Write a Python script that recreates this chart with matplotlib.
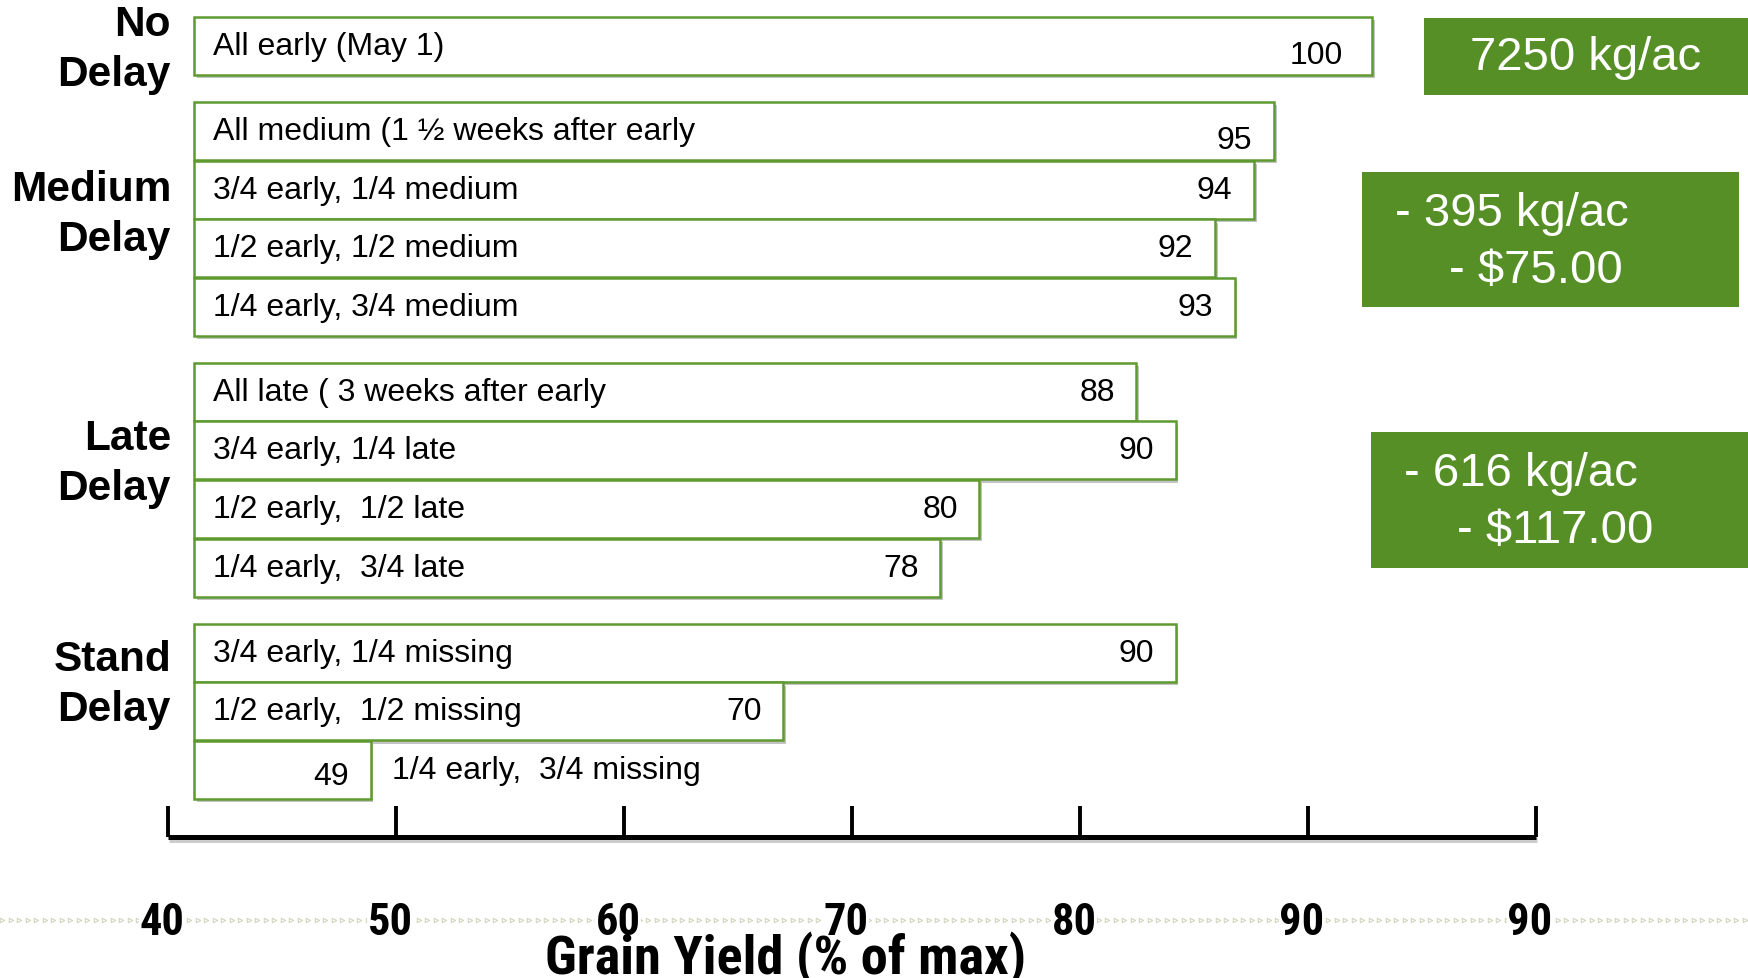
import numpy as np
import matplotlib
matplotlib.use("Agg")
import matplotlib.pyplot as plt
from matplotlib import patheffects as pe
from matplotlib import font_manager as fm
from matplotlib import transforms as mtrans
from matplotlib.patches import Rectangle

# ---------------- data ----------------
labels = [
    "All early (May 1)",
    "All medium (1 \u00bd weeks after early",
    "3/4 early, 1/4 medium",
    "1/2 early, 1/2 medium",
    "1/4 early, 3/4 medium",
    "All late ( 3 weeks after early",
    "3/4 early, 1/4 late",
    "1/2 early,  1/2 late",
    "1/4 early,  3/4 late",
    "3/4 early, 1/4 missing",
    "1/2 early,  1/2 missing",
    "1/4 early,  3/4 missing",
]
values = [100, 95, 94, 92, 93, 88, 90, 80, 78, 90, 70, 49]
groups = [0, 1, 1, 1, 1, 2, 2, 2, 2, 3, 3, 3]
group_names = ["No\nDelay", "Medium\nDelay", "Late\nDelay", "Stand\nDelay"]
axis_ticks = [40, 50, 60, 70, 80, 90, 100]
axis_ticklabels = ["40", "50", "60", "70", "80", "90", "90"]
xlabel = "Grain Yield (% of max)"
box_texts = [["7250 kg/ac"], ["- 395 kg/ac", "- $75.00"], ["- 616 kg/ac", "- $117.00"]]

# ---------------- style ----------------
W, H = 1748, 979
GREEN = "#568F26"
EDGE = "#5E9A30"
FONT = ["Liberation Sans", "DejaVu Sans"]
plt.rcParams["font.family"] = FONT

# pick a condensed bold font if one is installed
names = {f.name for f in fm.fontManager.ttflist}
narrow_kw = dict(family=FONT, fontweight="bold")
for cand in ["Liberation Sans Narrow", "Roboto Condensed", "Open Sans Condensed",
             "DejaVu Sans Condensed", "Noto Sans Condensed"]:
    if cand in names:
        narrow_kw = dict(family=[cand] + FONT, fontweight="bold")
        break
else:
    if any(f.name == "DejaVu Sans" and f.stretch in ("condensed", 75, "semi-condensed")
           for f in fm.fontManager.ttflist):
        narrow_kw = dict(family=["DejaVu Sans"], fontweight="bold", fontstretch="condensed")

fig = plt.figure(figsize=(W / 100, H / 100), dpi=100)
fig.patch.set_facecolor("white")

# pixel-space decoration axes
deco = fig.add_axes([0, 0, 1, 1])
deco.set_xlim(0, W)
deco.set_ylim(H, 0)
deco.axis("off")

# bar axes (data coordinates: x = yield, y = row)
px_per_unit = (1372 - 194) / 60.0
pitch = 58.6
gap = 0.45
x0 = 40 - 194 / px_per_unit
y_top = -47 / pitch
ax = fig.add_axes([0, 0, 1, 1])
ax.set_xlim(x0, x0 + W / px_per_unit)
ax.set_ylim(y_top + H / pitch, y_top)
ax.axis("off")
ax.patch.set_alpha(0)

ypos = np.arange(len(values)) + gap * np.array(groups)
base = 40
bars = ax.barh(ypos, np.array(values) - base, left=base, height=0.99,
               color="white", edgecolor=EDGE, linewidth=1.8, zorder=3)
for b in bars:
    b.set_path_effects([pe.SimplePatchShadow(offset=(2, -2.5), shadow_rgbFace="#555555", alpha=0.35),
                        pe.Normal()])

FS = 23
pad_units = 1.1
for i, (lab, v, y) in enumerate(zip(labels, values, ypos)):
    short = (v - base) < 15
    if short:
        ax.text(v - pad_units, y + 0.1, str(v), ha="right", va="center", fontsize=FS, zorder=5)
        ax.text(v + pad_units, y, lab, ha="left", va="center", fontsize=FS, zorder=5)
    else:
        ax.text(base + 0.95, y, lab, ha="left", va="center", fontsize=FS, zorder=5)
        dy = 0.15 if i < 2 else 0.0
        ax.text(v - pad_units - (0.4 if v == 100 else 0), y + dy, str(v), ha="right", va="center",
                fontsize=FS, zorder=5)

# group labels
group_offsets = [0.05, -0.08, -0.29, -0.46]
for g, name in enumerate(group_names):
    idx = [i for i, gg in enumerate(groups) if gg == g]
    yc = (ypos[idx[0]] + ypos[idx[-1]]) / 2 + group_offsets[g]
    ax.text(x0 + 171 / px_per_unit, yc, name, ha="right", va="center", fontsize=30.5,
            fontweight="bold", linespacing=1.32, multialignment="right")

# green summary boxes (pixel coordinates)
boxes = [(1424, 19, W - 1424, 77), (1362, 173, 377, 135), (1371, 433, W - 1371, 136)]
for (bx, by, bw, bh) in boxes:
    deco.add_patch(Rectangle((bx, by), bw, bh, facecolor=GREEN, edgecolor="none", zorder=2))
deco.text(1586, 58, box_texts[0][0], ha="center", va="center", fontsize=34, color="white")
deco.text(1395, 214, box_texts[1][0], ha="left", va="center", fontsize=34, color="white")
deco.text(1449, 271, box_texts[1][1], ha="left", va="center", fontsize=34, color="white")
deco.text(1404, 474, box_texts[2][0], ha="left", va="center", fontsize=34, color="white")
deco.text(1457, 531, box_texts[2][1], ha="left", va="center", fontsize=34, color="white")

# chevron decoration line
xs = np.arange(2, W, 8.5)
deco.plot(xs, np.full_like(xs, 921.0), linestyle="none", marker=">", markersize=3.2,
          markerfacecolor="none", markeredgecolor="#c9d3b6", markeredgewidth=0.7, zorder=1)

# decorative axis
axx = fig.add_axes([168 / W, (H - 838) / H, (1536 - 168) / W, 40 / H])
axx.set_xlim(40, 100)
axx.patch.set_alpha(0)
for s in ["top", "left", "right"]:
    axx.spines[s].set_visible(False)
axx.spines["bottom"].set_linewidth(3.6)
axx.spines["bottom"].set_capstyle("butt")
axx.set_yticks([])
axx.set_xticks(axis_ticks)
axx.set_xticklabels(axis_ticklabels)
axx.tick_params(axis="x", direction="in", length=22, width=2.8, pad=46, labelsize=34)
shift = mtrans.ScaledTranslation(-6 / 100, 0, fig.dpi_scale_trans)
for lbl in axx.get_xticklabels():
    lbl.set_fontfamily(narrow_kw["family"])
    lbl.set_fontweight("bold")
    if "fontstretch" in narrow_kw:
        lbl.set_fontstretch("condensed")
    lbl.set_bbox(dict(facecolor="white", edgecolor="none", pad=0.5))
    lbl.set_transform(lbl.get_transform() + shift)
axx.spines["bottom"].set_path_effects([pe.SimpleLineShadow(offset=(1, -2.5), alpha=0.2), pe.Normal()])

# axis title drawn at figure level so it sits above the tick labels
xl = fig.text(786 / W, 1 - 959 / H, xlabel, ha="center", va="center", fontsize=41, zorder=10,
              **narrow_kw)

# fit condensed texts to the reference widths
renderer = fig.canvas.get_renderer()
w = xl.get_window_extent(renderer).width
xl.set_fontsize(41 * 482.0 / w)
lbl0 = axx.get_xticklabels()[0]
w = lbl0.get_window_extent(renderer).width
tick_fs = 34 * 45.0 / w
for lbl in axx.get_xticklabels():
    lbl.set_fontsize(tick_fs)

fig.savefig("out.png", dpi=100, facecolor="white")
